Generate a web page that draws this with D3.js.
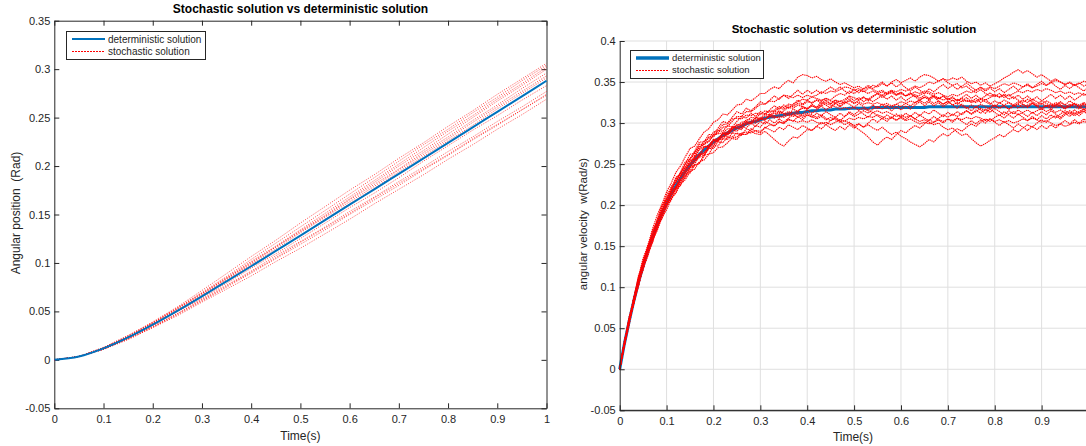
<!DOCTYPE html>
<html>
<head>
<meta charset="utf-8">
<script src="https://cdn.jsdelivr.net/npm/d3@7"></script>
<style>
  body { margin: 0; background: #fff; }
  svg { display: block; font-family: "Liberation Sans", Arial, Helvetica, sans-serif; }
</style>
</head>
<body>
<div id="chart"></div>
<script>
// ---------------- data ----------------
var chartTitle = "Stochastic solution vs deterministic solution";
var legendLabels = ["deterministic solution", "stochastic solution"];
var xLabel = "Time(s)";
var posYLabel = "Angular position  (Rad)";
var velYLabel = "angular velocity  w(Rad/s)";

var xTicks = [0, 0.1, 0.2, 0.3, 0.4, 0.5, 0.6, 0.7, 0.8, 0.9, 1];
var posYTicks = [-0.05, 0, 0.05, 0.1, 0.15, 0.2, 0.25, 0.3, 0.35];
var velYTicks = [-0.05, 0, 0.05, 0.1, 0.15, 0.2, 0.25, 0.3, 0.35, 0.4];

// angular position, sampled every 0.05 s
var posTime = [0, 0.05, 0.1, 0.15, 0.2, 0.25, 0.3, 0.35, 0.4, 0.45, 0.5, 0.55, 0.6, 0.65, 0.7, 0.75, 0.8, 0.85, 0.9, 0.95, 1];
var posDet = [0, 0.0034, 0.0118, 0.0231, 0.0363, 0.0506, 0.0656, 0.0810, 0.0966, 0.1124, 0.1282, 0.1441, 0.1601, 0.1760, 0.1920, 0.2080, 0.2240, 0.2400, 0.2560, 0.2720, 0.2880];
var posPath1 = [0, 0.0034, 0.0128, 0.0251, 0.0393, 0.0546, 0.0716, 0.0890, 0.1066, 0.1234, 0.1412, 0.1581, 0.1751, 0.1910, 0.2080, 0.2240, 0.2410, 0.2570, 0.2740, 0.2900, 0.3060];
var posPath2 = [0, 0.0034, 0.0128, 0.0251, 0.0383, 0.0536, 0.0696, 0.0860, 0.1036, 0.1204, 0.1372, 0.1541, 0.1711, 0.1880, 0.2050, 0.2220, 0.2380, 0.2550, 0.2710, 0.2880, 0.3040];
var posPath3 = [0, 0.0034, 0.0118, 0.0241, 0.0383, 0.0536, 0.0686, 0.0850, 0.1016, 0.1174, 0.1342, 0.1511, 0.1681, 0.1850, 0.2020, 0.2190, 0.2360, 0.2520, 0.2690, 0.2850, 0.3020];
var posPath4 = [0, 0.0034, 0.0128, 0.0241, 0.0383, 0.0526, 0.0686, 0.0840, 0.1006, 0.1164, 0.1332, 0.1491, 0.1661, 0.1830, 0.2000, 0.2160, 0.2330, 0.2500, 0.2670, 0.2830, 0.3000];
var posPath5 = [0, 0.0034, 0.0118, 0.0241, 0.0373, 0.0526, 0.0676, 0.0840, 0.0996, 0.1164, 0.1322, 0.1481, 0.1651, 0.1810, 0.1970, 0.2140, 0.2300, 0.2470, 0.2630, 0.2800, 0.2960];
var posPath6 = [0, 0.0034, 0.0118, 0.0231, 0.0373, 0.0516, 0.0666, 0.0830, 0.0986, 0.1144, 0.1312, 0.1471, 0.1631, 0.1790, 0.1960, 0.2120, 0.2280, 0.2450, 0.2610, 0.2770, 0.2930];
var posPath7 = [0, 0.0034, 0.0118, 0.0231, 0.0363, 0.0506, 0.0666, 0.0820, 0.0976, 0.1124, 0.1282, 0.1451, 0.1611, 0.1770, 0.1940, 0.2100, 0.2260, 0.2420, 0.2590, 0.2750, 0.2910];
var posPath8 = [0, 0.0034, 0.0118, 0.0221, 0.0353, 0.0496, 0.0636, 0.0790, 0.0946, 0.1094, 0.1252, 0.1411, 0.1571, 0.1720, 0.1880, 0.2050, 0.2210, 0.2370, 0.2520, 0.2680, 0.2830];
var posPath9 = [0, 0.0034, 0.0108, 0.0221, 0.0343, 0.0476, 0.0626, 0.0770, 0.0916, 0.1074, 0.1222, 0.1371, 0.1531, 0.1680, 0.1840, 0.1990, 0.2150, 0.2300, 0.2460, 0.2610, 0.2770];
var posPath10 = [0, 0.0034, 0.0108, 0.0211, 0.0333, 0.0466, 0.0606, 0.0750, 0.0896, 0.1044, 0.1192, 0.1341, 0.1501, 0.1650, 0.1800, 0.1960, 0.2110, 0.2270, 0.2420, 0.2580, 0.2730];
var posPath11 = [0, 0.0034, 0.0108, 0.0211, 0.0333, 0.0456, 0.0596, 0.0730, 0.0866, 0.1014, 0.1152, 0.1301, 0.1451, 0.1610, 0.1760, 0.1910, 0.2070, 0.2220, 0.2380, 0.2530, 0.2690];
var posPath12 = [0, 0.0034, 0.0108, 0.0221, 0.0343, 0.0476, 0.0616, 0.0760, 0.0906, 0.1054, 0.1212, 0.1361, 0.1511, 0.1670, 0.1820, 0.1970, 0.2120, 0.2280, 0.2430, 0.2580, 0.2740];
var posPaths = [posPath1, posPath2, posPath3, posPath4, posPath5, posPath6, posPath7, posPath8, posPath9, posPath10, posPath11, posPath12];

// angular velocity, sampled every 0.01 s
var velTime = [0, 0.01, 0.02, 0.03, 0.04, 0.05, 0.06, 0.07, 0.08, 0.09, 0.1,
  0.11, 0.12, 0.13, 0.14, 0.15, 0.16, 0.17, 0.18, 0.19, 0.2,
  0.21, 0.22, 0.23, 0.24, 0.25, 0.26, 0.27, 0.28, 0.29, 0.3,
  0.31, 0.32, 0.33, 0.34, 0.35, 0.36, 0.37, 0.38, 0.39, 0.4,
  0.41, 0.42, 0.43, 0.44, 0.45, 0.46, 0.47, 0.48, 0.49, 0.5,
  0.51, 0.52, 0.53, 0.54, 0.55, 0.56, 0.57, 0.58, 0.59, 0.6,
  0.61, 0.62, 0.63, 0.64, 0.65, 0.66, 0.67, 0.68, 0.69, 0.7,
  0.71, 0.72, 0.73, 0.74, 0.75, 0.76, 0.77, 0.78, 0.79, 0.8,
  0.81, 0.82, 0.83, 0.84, 0.85, 0.86, 0.87, 0.88, 0.89, 0.9,
  0.91, 0.92, 0.93, 0.94, 0.95, 0.96, 0.97, 0.98, 0.99, 1];
var velDet = [0, 0.031, 0.058, 0.083, 0.106, 0.126, 0.144, 0.161, 0.176, 0.190, 0.202,
  0.214, 0.224, 0.233, 0.241, 0.249, 0.255, 0.262, 0.267, 0.272, 0.277,
  0.281, 0.285, 0.288, 0.291, 0.294, 0.296, 0.299, 0.301, 0.302, 0.304,
  0.306, 0.307, 0.308, 0.309, 0.310, 0.311, 0.312, 0.313, 0.313, 0.314,
  0.315, 0.315, 0.316, 0.316, 0.316, 0.317, 0.317, 0.317, 0.318, 0.318,
  0.318, 0.318, 0.318, 0.319, 0.319, 0.319, 0.319, 0.319, 0.319, 0.319,
  0.319, 0.319, 0.319, 0.319, 0.319, 0.320, 0.320, 0.320, 0.320, 0.320,
  0.320, 0.320, 0.320, 0.320, 0.320, 0.320, 0.320, 0.320, 0.320, 0.320,
  0.320, 0.320, 0.320, 0.320, 0.320, 0.320, 0.320, 0.320, 0.320, 0.320,
  0.320, 0.320, 0.320, 0.320, 0.320, 0.320, 0.320, 0.320, 0.320, 0.320];
var velPathA = [0, 0.033, 0.062, 0.086, 0.112, 0.135, 0.151, 0.171, 0.188, 0.201, 0.216,
  0.227, 0.240, 0.248, 0.259, 0.269, 0.272, 0.281, 0.289, 0.293, 0.301,
  0.304, 0.311, 0.310, 0.316, 0.322, 0.323, 0.329, 0.327, 0.331, 0.336,
  0.336, 0.341, 0.344, 0.342, 0.348, 0.352, 0.349, 0.356, 0.359, 0.358,
  0.355, 0.357, 0.353, 0.351, 0.354, 0.350, 0.347, 0.349, 0.346, 0.343,
  0.345, 0.341, 0.344, 0.341, 0.338, 0.340, 0.336, 0.339, 0.335, 0.337,
  0.333, 0.336, 0.332, 0.334, 0.337, 0.336, 0.332, 0.330, 0.333, 0.329,
  0.331, 0.327, 0.330, 0.326, 0.328, 0.325, 0.329, 0.326, 0.323, 0.327,
  0.324, 0.328, 0.325, 0.322, 0.326, 0.323, 0.320, 0.324, 0.321, 0.318,
  0.322, 0.319, 0.323, 0.320, 0.317, 0.321, 0.324, 0.322, 0.325, 0.323];
var velPathB = [0, 0.030, 0.059, 0.081, 0.106, 0.128, 0.143, 0.162, 0.179, 0.190, 0.200,
  0.215, 0.223, 0.230, 0.241, 0.247, 0.256, 0.261, 0.263, 0.270, 0.277,
  0.278, 0.284, 0.283, 0.283, 0.288, 0.286, 0.286, 0.290, 0.287, 0.286,
  0.290, 0.285, 0.280, 0.275, 0.272, 0.278, 0.283, 0.282, 0.287, 0.292,
  0.291, 0.296, 0.301, 0.298, 0.303, 0.307, 0.303, 0.308, 0.312, 0.308,
  0.311, 0.315, 0.312, 0.317, 0.320, 0.317, 0.322, 0.319, 0.323, 0.320,
  0.324, 0.321, 0.325, 0.328, 0.324, 0.328, 0.324, 0.327, 0.323, 0.326,
  0.322, 0.325, 0.321, 0.318, 0.322, 0.319, 0.323, 0.320, 0.317, 0.321,
  0.318, 0.322, 0.325, 0.321, 0.324, 0.328, 0.325, 0.329, 0.326, 0.323,
  0.327, 0.324, 0.321, 0.325, 0.322, 0.319, 0.323, 0.320, 0.317, 0.319];
var velPathC = [0, 0.032, 0.057, 0.085, 0.110, 0.127, 0.147, 0.161, 0.178, 0.195, 0.205,
  0.220, 0.228, 0.240, 0.246, 0.257, 0.261, 0.271, 0.274, 0.277, 0.285,
  0.287, 0.288, 0.293, 0.293, 0.298, 0.297, 0.302, 0.301, 0.300, 0.305,
  0.305, 0.309, 0.308, 0.306, 0.309, 0.312, 0.310, 0.313, 0.309, 0.312,
  0.310, 0.307, 0.310, 0.306, 0.303, 0.306, 0.302, 0.298, 0.301, 0.296,
  0.292, 0.288, 0.283, 0.277, 0.273, 0.279, 0.283, 0.280, 0.286, 0.291,
  0.288, 0.293, 0.297, 0.294, 0.299, 0.304, 0.301, 0.306, 0.310, 0.307,
  0.311, 0.308, 0.312, 0.315, 0.311, 0.314, 0.318, 0.315, 0.319, 0.322,
  0.318, 0.321, 0.317, 0.320, 0.323, 0.319, 0.322, 0.325, 0.321, 0.324,
  0.320, 0.323, 0.319, 0.322, 0.318, 0.321, 0.324, 0.320, 0.323, 0.321];
var velPathD = [0, 0.029, 0.058, 0.080, 0.105, 0.122, 0.142, 0.161, 0.173, 0.189, 0.198,
  0.212, 0.219, 0.230, 0.240, 0.245, 0.253, 0.262, 0.264, 0.271, 0.279,
  0.281, 0.288, 0.289, 0.295, 0.296, 0.301, 0.302, 0.307, 0.306, 0.311,
  0.311, 0.315, 0.314, 0.318, 0.317, 0.321, 0.320, 0.324, 0.322, 0.326,
  0.325, 0.328, 0.327, 0.330, 0.328, 0.333, 0.336, 0.334, 0.339, 0.336,
  0.340, 0.338, 0.342, 0.346, 0.344, 0.348, 0.345, 0.350, 0.353, 0.349,
  0.352, 0.355, 0.351, 0.356, 0.359, 0.358, 0.355, 0.351, 0.354, 0.349,
  0.346, 0.348, 0.343, 0.345, 0.340, 0.337, 0.341, 0.336, 0.333, 0.335,
  0.331, 0.334, 0.329, 0.332, 0.328, 0.325, 0.329, 0.326, 0.323, 0.327,
  0.324, 0.321, 0.325, 0.322, 0.319, 0.323, 0.320, 0.317, 0.321, 0.318];
var velPathE = [0, 0.032, 0.061, 0.084, 0.105, 0.127, 0.142, 0.161, 0.173, 0.189, 0.203,
  0.213, 0.220, 0.231, 0.236, 0.246, 0.254, 0.258, 0.261, 0.269, 0.272,
  0.279, 0.281, 0.287, 0.288, 0.294, 0.294, 0.300, 0.300, 0.304, 0.304,
  0.309, 0.308, 0.306, 0.309, 0.307, 0.310, 0.308, 0.311, 0.307, 0.310,
  0.308, 0.305, 0.308, 0.304, 0.307, 0.304, 0.301, 0.303, 0.300, 0.297,
  0.299, 0.295, 0.298, 0.294, 0.291, 0.295, 0.290, 0.286, 0.289, 0.284,
  0.281, 0.277, 0.274, 0.271, 0.275, 0.280, 0.277, 0.283, 0.287, 0.284,
  0.289, 0.293, 0.290, 0.295, 0.299, 0.296, 0.301, 0.305, 0.302, 0.307,
  0.310, 0.306, 0.311, 0.314, 0.310, 0.313, 0.316, 0.312, 0.315, 0.318,
  0.314, 0.317, 0.313, 0.316, 0.312, 0.315, 0.311, 0.314, 0.317, 0.313];
var velPathF = [0, 0.033, 0.058, 0.086, 0.111, 0.128, 0.148, 0.168, 0.181, 0.198, 0.208,
  0.217, 0.229, 0.235, 0.245, 0.250, 0.258, 0.268, 0.271, 0.273, 0.280,
  0.281, 0.287, 0.287, 0.292, 0.298, 0.298, 0.304, 0.304, 0.302, 0.306,
  0.305, 0.308, 0.312, 0.311, 0.315, 0.319, 0.318, 0.322, 0.320, 0.318,
  0.321, 0.318, 0.321, 0.324, 0.322, 0.320, 0.317, 0.319, 0.317, 0.319,
  0.316, 0.318, 0.315, 0.313, 0.315, 0.312, 0.314, 0.311, 0.308, 0.310,
  0.307, 0.309, 0.305, 0.302, 0.304, 0.301, 0.298, 0.300, 0.295, 0.292,
  0.294, 0.289, 0.285, 0.287, 0.281, 0.276, 0.272, 0.275, 0.279, 0.282,
  0.286, 0.283, 0.288, 0.292, 0.289, 0.294, 0.298, 0.295, 0.300, 0.304,
  0.301, 0.306, 0.309, 0.305, 0.310, 0.313, 0.309, 0.312, 0.315, 0.311];
var velPathG = [0, 0.030, 0.055, 0.082, 0.102, 0.124, 0.139, 0.158, 0.170, 0.186, 0.200,
  0.209, 0.221, 0.227, 0.237, 0.242, 0.250, 0.260, 0.263, 0.271, 0.274,
  0.281, 0.283, 0.289, 0.294, 0.294, 0.298, 0.298, 0.302, 0.306, 0.306,
  0.311, 0.310, 0.314, 0.313, 0.311, 0.314, 0.312, 0.315, 0.318, 0.317,
  0.321, 0.319, 0.323, 0.326, 0.324, 0.328, 0.326, 0.329, 0.333, 0.331,
  0.328, 0.331, 0.329, 0.333, 0.336, 0.334, 0.337, 0.340, 0.338, 0.341,
  0.339, 0.342, 0.345, 0.343, 0.346, 0.350, 0.348, 0.351, 0.354, 0.352,
  0.355, 0.353, 0.356, 0.351, 0.348, 0.350, 0.346, 0.349, 0.345, 0.348,
  0.351, 0.355, 0.358, 0.362, 0.365, 0.361, 0.364, 0.360, 0.356, 0.359,
  0.355, 0.351, 0.354, 0.350, 0.347, 0.350, 0.346, 0.349, 0.345, 0.348];
var velPathH = [0, 0.032, 0.058, 0.085, 0.107, 0.129, 0.149, 0.164, 0.182, 0.194, 0.209,
  0.219, 0.232, 0.239, 0.250, 0.256, 0.265, 0.270, 0.278, 0.281, 0.289,
  0.291, 0.298, 0.299, 0.305, 0.306, 0.305, 0.310, 0.309, 0.312, 0.311,
  0.315, 0.313, 0.316, 0.320, 0.319, 0.323, 0.322, 0.326, 0.329, 0.328,
  0.332, 0.330, 0.328, 0.330, 0.327, 0.325, 0.327, 0.324, 0.327, 0.324,
  0.326, 0.323, 0.325, 0.323, 0.325, 0.322, 0.324, 0.321, 0.323, 0.326,
  0.324, 0.327, 0.325, 0.328, 0.331, 0.330, 0.333, 0.331, 0.328, 0.330,
  0.327, 0.329, 0.326, 0.328, 0.325, 0.327, 0.330, 0.328, 0.331, 0.334,
  0.332, 0.335, 0.333, 0.336, 0.339, 0.337, 0.340, 0.338, 0.341, 0.339,
  0.342, 0.340, 0.337, 0.339, 0.336, 0.338, 0.335, 0.337, 0.334, 0.336];
var velPathI = [0, 0.029, 0.057, 0.080, 0.101, 0.123, 0.138, 0.157, 0.169, 0.185, 0.194,
  0.208, 0.215, 0.226, 0.231, 0.241, 0.244, 0.253, 0.255, 0.262, 0.264,
  0.270, 0.271, 0.276, 0.282, 0.283, 0.288, 0.289, 0.288, 0.291, 0.290,
  0.294, 0.298, 0.297, 0.301, 0.300, 0.304, 0.303, 0.301, 0.303, 0.301,
  0.304, 0.301, 0.299, 0.301, 0.298, 0.301, 0.304, 0.302, 0.306, 0.304,
  0.307, 0.305, 0.308, 0.307, 0.310, 0.308, 0.305, 0.307, 0.304, 0.306,
  0.303, 0.305, 0.302, 0.299, 0.301, 0.299, 0.301, 0.304, 0.302, 0.305,
  0.303, 0.306, 0.304, 0.307, 0.305, 0.308, 0.306, 0.303, 0.305, 0.302,
  0.304, 0.301, 0.303, 0.300, 0.302, 0.305, 0.303, 0.306, 0.304, 0.301,
  0.303, 0.300, 0.297, 0.299, 0.296, 0.298, 0.301, 0.299, 0.302, 0.300];
var velPathJ = [0, 0.032, 0.060, 0.087, 0.108, 0.131, 0.147, 0.162, 0.180, 0.192, 0.207,
  0.217, 0.230, 0.237, 0.243, 0.254, 0.258, 0.268, 0.275, 0.278, 0.286,
  0.288, 0.295, 0.296, 0.302, 0.308, 0.308, 0.314, 0.314, 0.318, 0.323,
  0.323, 0.327, 0.326, 0.330, 0.334, 0.333, 0.331, 0.334, 0.331, 0.334,
  0.332, 0.334, 0.338, 0.336, 0.339, 0.338, 0.341, 0.344, 0.343, 0.340,
  0.342, 0.339, 0.336, 0.339, 0.336, 0.338, 0.335, 0.337, 0.334, 0.336,
  0.333, 0.335, 0.338, 0.336, 0.339, 0.338, 0.335, 0.337, 0.334, 0.332,
  0.335, 0.333, 0.336, 0.339, 0.337, 0.340, 0.343, 0.341, 0.344, 0.342,
  0.345, 0.348, 0.346, 0.349, 0.347, 0.344, 0.346, 0.343, 0.345, 0.348,
  0.346, 0.349, 0.352, 0.350, 0.347, 0.349, 0.346, 0.348, 0.351, 0.349];
var velPathK = [0, 0.035, 0.056, 0.088, 0.106, 0.132, 0.145, 0.158, 0.180, 0.189, 0.207,
  0.214, 0.220, 0.236, 0.239, 0.254, 0.256, 0.259, 0.271, 0.271, 0.279,
  0.278, 0.288, 0.286, 0.295, 0.294, 0.292, 0.301, 0.299, 0.307, 0.305,
  0.303, 0.311, 0.308, 0.315, 0.312, 0.309, 0.317, 0.314, 0.320, 0.317,
  0.323, 0.319, 0.326, 0.322, 0.318, 0.324, 0.320, 0.326, 0.323, 0.319,
  0.324, 0.320, 0.316, 0.322, 0.318, 0.323, 0.319, 0.315, 0.320, 0.316,
  0.321, 0.317, 0.322, 0.326, 0.321, 0.326, 0.321, 0.325, 0.320, 0.324,
  0.328, 0.323, 0.327, 0.331, 0.326, 0.330, 0.325, 0.329, 0.324, 0.320,
  0.325, 0.321, 0.317, 0.322, 0.318, 0.323, 0.319, 0.324, 0.320, 0.316,
  0.321, 0.317, 0.322, 0.326, 0.322, 0.327, 0.323, 0.319, 0.324, 0.320];
var velPathL = [0, 0.028, 0.060, 0.079, 0.107, 0.121, 0.143, 0.155, 0.174, 0.183, 0.199,
  0.206, 0.220, 0.224, 0.236, 0.239, 0.249, 0.251, 0.260, 0.269, 0.269,
  0.277, 0.276, 0.283, 0.281, 0.280, 0.287, 0.286, 0.293, 0.290, 0.288,
  0.295, 0.292, 0.289, 0.295, 0.292, 0.298, 0.295, 0.292, 0.297, 0.294,
  0.291, 0.296, 0.293, 0.298, 0.294, 0.291, 0.296, 0.292, 0.298, 0.294,
  0.299, 0.295, 0.300, 0.305, 0.301, 0.306, 0.302, 0.307, 0.303, 0.308,
  0.304, 0.309, 0.305, 0.310, 0.306, 0.303, 0.308, 0.304, 0.300, 0.305,
  0.301, 0.306, 0.302, 0.298, 0.303, 0.299, 0.304, 0.300, 0.305, 0.301,
  0.297, 0.302, 0.298, 0.294, 0.299, 0.295, 0.291, 0.296, 0.292, 0.297,
  0.293, 0.298, 0.294, 0.299, 0.303, 0.299, 0.304, 0.300, 0.305, 0.301];
var velPathM = [0, 0.034, 0.057, 0.087, 0.114, 0.129, 0.151, 0.163, 0.182, 0.200, 0.207,
  0.223, 0.228, 0.241, 0.253, 0.256, 0.266, 0.277, 0.277, 0.286, 0.286,
  0.294, 0.302, 0.300, 0.307, 0.314, 0.311, 0.318, 0.315, 0.320, 0.326,
  0.323, 0.328, 0.333, 0.329, 0.334, 0.330, 0.335, 0.340, 0.335, 0.340,
  0.336, 0.340, 0.336, 0.340, 0.344, 0.340, 0.344, 0.339, 0.336, 0.341,
  0.337, 0.342, 0.346, 0.342, 0.346, 0.350, 0.345, 0.349, 0.344, 0.348,
  0.343, 0.339, 0.344, 0.340, 0.336, 0.342, 0.338, 0.343, 0.347, 0.342,
  0.346, 0.341, 0.345, 0.349, 0.344, 0.340, 0.344, 0.339, 0.343, 0.338,
  0.342, 0.337, 0.341, 0.345, 0.340, 0.344, 0.348, 0.343, 0.347, 0.351,
  0.346, 0.350, 0.345, 0.341, 0.346, 0.342, 0.347, 0.343, 0.339, 0.344];
var velPathN = [0, 0.029, 0.053, 0.082, 0.102, 0.126, 0.141, 0.154, 0.174, 0.184, 0.201,
  0.209, 0.215, 0.229, 0.233, 0.246, 0.248, 0.251, 0.261, 0.262, 0.272,
  0.272, 0.281, 0.280, 0.288, 0.287, 0.285, 0.293, 0.291, 0.297, 0.295,
  0.302, 0.299, 0.296, 0.302, 0.299, 0.305, 0.302, 0.308, 0.304, 0.310,
  0.307, 0.312, 0.309, 0.314, 0.310, 0.307, 0.312, 0.308, 0.314, 0.310,
  0.315, 0.311, 0.307, 0.313, 0.309, 0.305, 0.310, 0.306, 0.311, 0.307,
  0.312, 0.308, 0.313, 0.309, 0.314, 0.311, 0.316, 0.312, 0.308, 0.313,
  0.309, 0.314, 0.310, 0.315, 0.311, 0.316, 0.312, 0.317, 0.313, 0.318,
  0.314, 0.310, 0.315, 0.311, 0.316, 0.312, 0.308, 0.313, 0.309, 0.314,
  0.310, 0.315, 0.311, 0.307, 0.312, 0.308, 0.313, 0.309, 0.314, 0.310];
var velPathO = [0, 0.033, 0.064, 0.084, 0.111, 0.135, 0.148, 0.169, 0.179, 0.197, 0.213,
  0.220, 0.234, 0.238, 0.250, 0.262, 0.263, 0.274, 0.274, 0.283, 0.283,
  0.291, 0.290, 0.297, 0.295, 0.302, 0.308, 0.306, 0.312, 0.308, 0.314,
  0.311, 0.316, 0.321, 0.317, 0.322, 0.318, 0.323, 0.328, 0.323, 0.328,
  0.324, 0.328, 0.324, 0.328, 0.323, 0.328, 0.323, 0.327, 0.332, 0.327,
  0.331, 0.326, 0.330, 0.326, 0.330, 0.334, 0.329, 0.333, 0.328, 0.332,
  0.327, 0.331, 0.335, 0.330, 0.334, 0.330, 0.334, 0.329, 0.333, 0.328,
  0.332, 0.327, 0.331, 0.335, 0.330, 0.334, 0.329, 0.333, 0.337, 0.332,
  0.336, 0.331, 0.335, 0.330, 0.334, 0.329, 0.333, 0.328, 0.332, 0.327,
  0.331, 0.335, 0.330, 0.334, 0.329, 0.333, 0.328, 0.332, 0.336, 0.331];
var velPathP = [0, 0.030, 0.061, 0.081, 0.108, 0.123, 0.145, 0.157, 0.176, 0.194, 0.201,
  0.217, 0.222, 0.235, 0.247, 0.250, 0.260, 0.262, 0.271, 0.271, 0.280,
  0.279, 0.287, 0.285, 0.292, 0.290, 0.296, 0.294, 0.300, 0.296, 0.302,
  0.299, 0.304, 0.300, 0.305, 0.301, 0.306, 0.311, 0.307, 0.311, 0.316,
  0.312, 0.316, 0.321, 0.316, 0.320, 0.325, 0.320, 0.324, 0.329, 0.324,
  0.328, 0.332, 0.327, 0.332, 0.336, 0.331, 0.335, 0.339, 0.334, 0.338,
  0.333, 0.337, 0.332, 0.328, 0.332, 0.328, 0.332, 0.327, 0.323, 0.327,
  0.322, 0.318, 0.323, 0.319, 0.315, 0.320, 0.316, 0.312, 0.317, 0.313,
  0.309, 0.314, 0.310, 0.306, 0.311, 0.307, 0.303, 0.308, 0.304, 0.309,
  0.305, 0.310, 0.306, 0.311, 0.315, 0.311, 0.316, 0.312, 0.317, 0.313];
var velPaths = [velPathA, velPathB, velPathC, velPathD, velPathE, velPathF, velPathG, velPathH,
  velPathI, velPathJ, velPathK, velPathL, velPathM, velPathN, velPathO, velPathP];

// ---------------- layout ----------------
var svgWidth = 1086;
var svgHeight = 446;
var axisColor = "#262626";
var detColor = "#0072bd";
var stoColor = "#ff0000";
var fmt = function(d) { return String(+d.toFixed(2)); };

var svg = d3.select("#chart")
  .append("svg")
  .attr("width", svgWidth)
  .attr("height", svgHeight);

// give an axis group the matlab look
function styleAxis(g, withLabels) {
  g.attr("font-family", null).attr("font-size", null);
  g.selectAll(".domain").attr("stroke", axisColor).attr("stroke-width", 1);
  g.selectAll(".tick line").attr("stroke", axisColor).attr("stroke-width", 1);
  g.selectAll(".tick text")
    .attr("fill", axisColor)
    .style("font-size", "11px");
  if (!withLabels) g.selectAll(".tick text").remove();
}

// legend box; x, y are whole pixels so the 1px lines stay crisp
function drawLegend(x, y, w, h, lineWidth, fontSize) {
  var lg = svg.append("g").attr("transform", "translate(" + x + "," + y + ")");
  lg.append("rect")
    .attr("x", 0.5).attr("y", 0.5)
    .attr("width", w).attr("height", h)
    .attr("fill", "#fff").attr("stroke", axisColor).attr("stroke-width", 1);
  lg.append("line")
    .attr("x1", 6).attr("x2", 39).attr("y1", 8).attr("y2", 8)
    .attr("stroke", detColor).attr("stroke-width", lineWidth);
  lg.append("line")
    .attr("x1", 6).attr("x2", 39).attr("y1", 20.5).attr("y2", 20.5)
    .attr("stroke", stoColor).attr("stroke-width", 1).attr("stroke-dasharray", "2 1");
  lg.selectAll("text.lab")
    .data(legendLabels)
    .enter()
    .append("text")
    .attr("class", "lab")
    .attr("x", 42)
    .attr("y", function(d, i) { return 8 + i * 12; })
    .attr("dy", "0.35em")
    .attr("fill", axisColor)
    .style("font-size", fontSize + "px")
    .text(function(d) { return d; });
}

// ================= left panel: angular position =================
var pos = { left: 54.3, right: 546.5, top: 20.7, bottom: 408.3 };

var xPos = d3.scaleLinear().domain([0, 1]).range([pos.left, pos.right]);
var yPos = d3.scaleLinear().domain([-0.05, 0.35]).range([pos.bottom, pos.top]);

svg.append("g")
  .attr("transform", "translate(0," + pos.bottom + ")")
  .call(d3.axisBottom(xPos).tickValues(xTicks).tickFormat(fmt).tickSizeInner(-5).tickSizeOuter(0).tickPadding(7))
  .call(styleAxis, true);
svg.append("g")
  .attr("transform", "translate(0," + pos.top + ")")
  .call(d3.axisTop(xPos).tickValues(xTicks).tickSizeInner(-5).tickSizeOuter(0))
  .call(styleAxis, false);
svg.append("g")
  .attr("transform", "translate(" + pos.left + ",0)")
  .call(d3.axisLeft(yPos).tickValues(posYTicks).tickFormat(fmt).tickSizeInner(-5).tickSizeOuter(0).tickPadding(4))
  .call(styleAxis, true);
svg.append("g")
  .attr("transform", "translate(" + pos.right + ",0)")
  .call(d3.axisRight(yPos).tickValues(posYTicks).tickSizeInner(-5).tickSizeOuter(0))
  .call(styleAxis, false);

var posLine = d3.line()
  .x(function(d, i) { return xPos(posTime[i]); })
  .y(function(d) { return yPos(d); });

svg.append("g")
  .selectAll("path")
  .data(posPaths)
  .enter()
  .append("path")
  .attr("d", posLine)
  .attr("fill", "none")
  .attr("stroke", stoColor)
  .attr("stroke-width", 0.8)
  .attr("stroke-opacity", 0.9)
  .attr("stroke-dasharray", "1 1.5");

svg.append("path")
  .datum(posDet)
  .attr("d", posLine.curve(d3.curveMonotoneX))
  .attr("fill", "none")
  .attr("stroke", detColor)
  .attr("stroke-width", 2);

svg.append("text")
  .attr("x", 300.5).attr("y", 13)
  .attr("text-anchor", "middle")
  .style("font-size", "12px").style("font-weight", "bold")
  .attr("fill", "#000")
  .text(chartTitle);
svg.append("text")
  .attr("x", (pos.left + pos.right) / 2).attr("y", 440)
  .attr("text-anchor", "middle")
  .style("font-size", "12px")
  .attr("fill", axisColor)
  .text(xLabel);
svg.append("text")
  .attr("transform", "translate(20,213) rotate(-90)")
  .attr("text-anchor", "middle")
  .style("font-size", "12px")
  .style("white-space", "pre")
  .attr("fill", axisColor)
  .text(posYLabel);

drawLegend(66, 31, 139, 28, 2, 10);

// ================= right panel: angular velocity =================
var vel = { left: 619.7, right: 1088.5, top: 41, bottom: 410.3 };

var xVel = d3.scaleLinear().domain([0, 1]).range([vel.left, vel.right]);
var yVel = d3.scaleLinear().domain([-0.05, 0.4]).range([vel.bottom, vel.top]);

// grid
svg.append("g")
  .selectAll("line")
  .data(xTicks.slice(1))
  .enter()
  .append("line")
  .attr("x1", function(d) { return xVel(d); }).attr("x2", function(d) { return xVel(d); })
  .attr("y1", vel.top).attr("y2", vel.bottom)
  .attr("stroke", "#dfdfdf").attr("stroke-width", 1);
svg.append("g")
  .selectAll("line")
  .data(velYTicks.slice(1))
  .enter()
  .append("line")
  .attr("x1", vel.left).attr("x2", vel.right)
  .attr("y1", function(d) { return yVel(d); }).attr("y2", function(d) { return yVel(d); })
  .attr("stroke", "#dfdfdf").attr("stroke-width", 1);

var velLine = d3.line()
  .x(function(d, i) { return xVel(velTime[i]); })
  .y(function(d) { return yVel(d); });

svg.append("path")
  .datum(velDet)
  .attr("d", velLine)
  .attr("fill", "none")
  .attr("stroke", detColor)
  .attr("stroke-width", 3);

svg.append("g")
  .selectAll("path")
  .data(velPaths)
  .enter()
  .append("path")
  .attr("d", velLine)
  .attr("fill", "none")
  .attr("stroke", stoColor)
  .attr("stroke-width", 1.1)
  .attr("stroke-dasharray", "1.4 0.7");

// the figure is cropped at the right, so the "1" label falls outside
var velXTicks = xTicks.filter(function(d) { return xVel(d) < svgWidth - 4; });

svg.append("g")
  .attr("transform", "translate(0," + vel.bottom + ")")
  .call(d3.axisBottom(xVel).tickValues(velXTicks).tickFormat(fmt).tickSizeInner(-5).tickSizeOuter(0).tickPadding(7))
  .call(styleAxis, true);
svg.append("line")
  .attr("x1", vel.left).attr("x2", svgWidth)
  .attr("y1", vel.bottom).attr("y2", vel.bottom)
  .attr("stroke", axisColor).attr("stroke-width", 1);
svg.append("g")
  .attr("transform", "translate(" + vel.left + ",0)")
  .call(d3.axisLeft(yVel).tickValues(velYTicks).tickFormat(fmt).tickSizeInner(-5).tickSizeOuter(0).tickPadding(4))
  .call(styleAxis, true);

svg.append("text")
  .attr("x", 854).attr("y", 33)
  .attr("text-anchor", "middle")
  .style("font-size", "11.5px").style("font-weight", "bold")
  .attr("fill", "#000")
  .text(chartTitle);
svg.append("text")
  .attr("x", 853).attr("y", 441)
  .attr("text-anchor", "middle")
  .style("font-size", "12px")
  .attr("fill", axisColor)
  .text(xLabel);
svg.append("text")
  .attr("transform", "translate(587,224) rotate(-90)")
  .attr("text-anchor", "middle")
  .style("font-size", "11.5px")
  .style("white-space", "pre")
  .attr("fill", axisColor)
  .text(velYLabel);

drawLegend(630, 50, 133, 28, 3.5, 9.5);
</script>
</body>
</html>
